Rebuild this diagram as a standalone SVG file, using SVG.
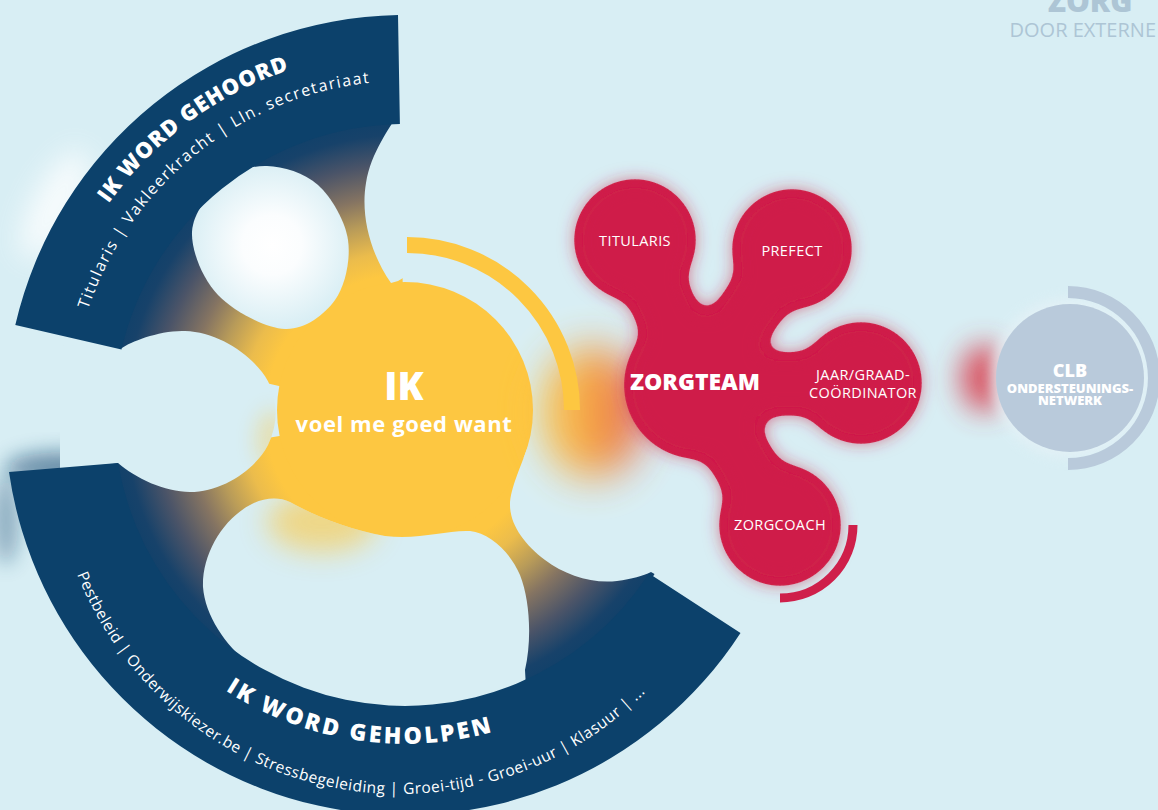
<svg xmlns="http://www.w3.org/2000/svg" width="1158" height="810" viewBox="0 0 1158 810">
<defs>
<style>
.t{font-family:"Open Sans","Liberation Sans",sans-serif;fill:#ffffff}
.rt{font-size:22px;font-weight:800;letter-spacing:0.8px}
.rb{font-size:23px;font-weight:800;letter-spacing:2.8px}
.rs{font-size:16px;font-weight:400;letter-spacing:1.5px}
.rsb{font-size:15.5px;font-weight:400;letter-spacing:0.5px}
.lbl{font-size:14.5px;font-weight:500;letter-spacing:0.4px;text-anchor:middle}
.hole{fill:#d8eef4}
</style>
<radialGradient id="ringGrad" gradientUnits="userSpaceOnUse" cx="405" cy="415" r="292">
<stop offset="0" stop-color="#fdc741"/>
<stop offset="0.48" stop-color="#fdc741"/>
<stop offset="0.56" stop-color="#ebbc4c"/>
<stop offset="0.66" stop-color="#b89b59"/>
<stop offset="0.75" stop-color="#857462"/>
<stop offset="0.86" stop-color="#4b5468"/>
<stop offset="0.96" stop-color="#17426a"/>
<stop offset="1" stop-color="#12416a"/>
</radialGradient>
<radialGradient id="holeGlow" gradientUnits="userSpaceOnUse" cx="272" cy="245" r="85">
<stop offset="0" stop-color="#ffffff"/>
<stop offset="0.35" stop-color="#fbfdfe"/>
<stop offset="1" stop-color="#d8eef4"/>
</radialGradient>
<linearGradient id="bridgeGrad" gradientUnits="userSpaceOnUse" x1="540" y1="0" x2="640" y2="0">
<stop offset="0" stop-color="#fdc741"/>
<stop offset="0.55" stop-color="#f6a03f"/>
<stop offset="1" stop-color="#e6463f"/>
</linearGradient>
<filter id="blur20" x="-80%" y="-80%" width="260%" height="260%"><feGaussianBlur stdDeviation="20"/></filter>
<filter id="blur14" x="-60%" y="-60%" width="220%" height="220%"><feGaussianBlur stdDeviation="14"/></filter>
<filter id="blur10" x="-60%" y="-60%" width="220%" height="220%"><feGaussianBlur stdDeviation="10"/></filter>
<filter id="blur6" x="-30%" y="-30%" width="160%" height="160%"><feGaussianBlur stdDeviation="6"/></filter>
<filter id="goo" filterUnits="userSpaceOnUse" x="480" y="120" width="500" height="540">
<feGaussianBlur in="SourceGraphic" stdDeviation="10" result="b"/>
<feColorMatrix in="b" type="matrix" values="1 0 0 0 0  0 1 0 0 0  0 0 1 0 0  0 0 0 24 -12" result="g"/>
<feGaussianBlur in="g" stdDeviation="8" result="h"/>
<feColorMatrix in="h" type="matrix" values="1 0 0 0 0  0 1 0 0 0  0 0 1 0 0  0 0 0 0.55 0" result="h2"/>
<feMerge><feMergeNode in="h2"/><feMergeNode in="g"/></feMerge>
</filter>
<path id="h3" d="M290,502 C315,516 350,530 385,536 C420,540 445,530 470,531 C490,533 510,552 520,575 C530,600 532,640 525,670 L530,760 L250,760 L250,665 C225,645 205,615 203,587 C202,555 222,520 250,505 C262,498 278,496 290,502 Z"/>
<path id="h2" d="M122,348 C130,342 160,330 185,331 C215,332 245,350 262,372 C278,393 280,420 268,445 C255,470 222,492 190,492 C165,492 135,478 118,463 L60,470 L60,345 Z"/>
<clipPath id="clipH3"><use href="#h3"/></clipPath>
<clipPath id="clipH2"><use href="#h2"/></clipPath>
<path id="tpTopTitle" d="M53.4,320.8 A364,364 0 0 1 436.7,52.4"/>
<path id="tpTopSub" d="M76.1,357 A334,334 0 0 1 434.1,82.3"/>
<path id="tpBotTitle" d="M77.3,443.7 A329,329 0 0 0 729,472.1"/>
<path id="tpBotSub" d="M54.3,477.2 A347,347 0 0 0 741.7,507.3"/>
</defs>

<rect x="0" y="0" width="1158" height="810" fill="#d8eef4"/>

<g id="header">
<text x="1090" y="12" font-family="'Open Sans','Liberation Sans',sans-serif" font-size="30" font-weight="800" fill="#adc5d5" text-anchor="middle">ZORG</text>
<text x="1156" y="37" font-family="'Open Sans','Liberation Sans',sans-serif" font-size="20" font-weight="400" fill="#adc5d5" text-anchor="end">DOOR EXTERNE</text>
</g>

<g id="ik-ring">
<ellipse cx="55" cy="205" rx="22" ry="60" transform="rotate(28 55 205)" fill="#ffffff" opacity="0.8" filter="url(#blur14)"/>
<ellipse cx="65" cy="468" rx="60" ry="16" fill="#0c416b" opacity="0.55" filter="url(#blur10)"/>
<ellipse cx="6" cy="520" rx="12" ry="45" fill="#0c416b" opacity="0.4" filter="url(#blur10)"/>
<path d="M405,415 L116.6,348.4 A296,296 0 0 1 399.8,119 Z" fill="url(#ringGrad)"/>
<path d="M405,415 L683.2,516.2 A296,296 0 0 1 113.1,463.8 Z" fill="url(#ringGrad)"/>
<circle cx="405" cy="410" r="128" fill="#fdc741"/>
<path d="M192,232 C192.7,213.2 209.5,193 222,182 C234.5,171 251,165.5 267,166 C283,166.5 304.5,172.7 318,185 C331.5,197.3 345.2,220.8 348,240 C350.8,259.2 345.5,285.2 335,300 C324.5,314.8 304.5,329.8 285,329 C265.5,328.2 233.5,311.2 218,295 C202.5,278.8 191.3,250.8 192,232 Z" fill="url(#holeGlow)"/>
<use href="#h2" class="hole"/>
<use href="#h3" class="hole"/>
<path class="hole" d="M530,440 C522,465 510,488 510,505 C510,525 525,545 545,560 C565,575 592,584 617,581 C632,579 643,576 651,572 L700,600 L730,420 L600,420 Z"/>
<path class="hole" d="M399,112 C390,128 371,152 366,183 C361,212 368,250 391,283 L398,281 L430,262 L430,112 Z"/>
<ellipse cx="322" cy="522" rx="55" ry="30" fill="#fdc741" opacity="0.6" filter="url(#blur14)" clip-path="url(#clipH3)"/>
<ellipse cx="272" cy="440" rx="16" ry="30" fill="#fdc741" opacity="0.35" filter="url(#blur10)" clip-path="url(#clipH2)"/>
<path d="M15.3,325 A400,400 0 0 1 398,15.1 L399.9,124 A291,291 0 0 0 121.5,349.5 Z" fill="#0c416b"/>
<path d="M740.5,632.9 A400,400 0 0 1 9,472 L118,463 A291,291 0 0 0 649,573.5 Z" fill="#0c416b"/>
<text class="t rt"><textPath href="#tpTopTitle" startOffset="130">IK WORD GEHOORD</textPath></text>
<text class="t rs"><textPath href="#tpTopSub" startOffset="49">Titularis | Vakleerkracht | Lln. secretariaat</textPath></text>
<text class="t rb"><textPath href="#tpBotTitle" startOffset="298">IK WORD GEHOLPEN</textPath></text>
<text class="t rsb"><textPath href="#tpBotSub" startOffset="100">Pestbeleid | Onderwijskiezer.be | Stressbegeleiding | Groei-tijd - Groei-uur | Klasuur | ...</textPath></text>
<text class="t" x="404" y="400" font-size="38" font-weight="800" text-anchor="middle">IK</text>
<text class="t" x="404" y="432" font-size="22" font-weight="700" letter-spacing="0.6" text-anchor="middle">voel me goed want</text>
</g>

<g id="connectors">
<ellipse cx="592" cy="412" rx="52" ry="66" fill="url(#bridgeGrad)" opacity="0.95" filter="url(#blur20)"/>
<ellipse cx="984" cy="378" rx="24" ry="34" fill="#d9414f" opacity="0.85" filter="url(#blur14)"/>
</g>

<g id="ik-arc">
<path d="M407,245 A165,165 0 0 1 572,410" fill="none" stroke="#fdc741" stroke-width="16"/>
</g>

<g id="zorgteam">
<g filter="url(#goo)" fill="#cf1f4a">
<circle cx="698" cy="385" r="75"/>
<circle cx="635" cy="240" r="62"/>
<circle cx="792" cy="249" r="61"/>
<circle cx="861" cy="383" r="62"/>
<circle cx="780" cy="525" r="62"/>
<path d="M698,385 L635,240 M698,385 L792,249 M698,385 L861,383 M698,385 L780,525" fill="none" stroke="#cf1f4a" stroke-width="64"/>
</g>
<path d="M853,525 A73,73 0 0 1 780,598" fill="none" stroke="#cf1f4a" stroke-width="9"/>
<text class="t" x="695" y="390" font-size="23" font-weight="800" text-anchor="middle">ZORGTEAM</text>
<text class="t lbl" x="635" y="246">TITULARIS</text>
<text class="t lbl" x="792" y="256">PREFECT</text>
<text class="t lbl" x="863" y="380" letter-spacing="1.9">JAAR/GRAAD-</text>
<text class="t lbl" x="863" y="398">COÖRDINATOR</text>
<text class="t lbl" x="780" y="530" letter-spacing="1.3">ZORGCOACH</text>
</g>

<g id="clb">
<circle cx="1070" cy="378" r="80" fill="#e6f2f7" opacity="0.7" filter="url(#blur6)"/>
<circle cx="1070" cy="378" r="74" fill="#b9cadb"/>
<path d="M1068,286 A92,92 0 0 1 1068,470 L1068,458 A80,80 0 0 0 1068,298 Z" fill="#b9cadb"/>
<text class="t" x="1070" y="377" font-size="18" font-weight="800" text-anchor="middle">CLB</text>
<text class="t" x="1070" y="393" font-size="13" font-weight="800" text-anchor="middle">ONDERSTEUNINGS-</text>
<text class="t" x="1070" y="405" font-size="13" font-weight="800" text-anchor="middle">NETWERK</text>
</g>
</svg>
